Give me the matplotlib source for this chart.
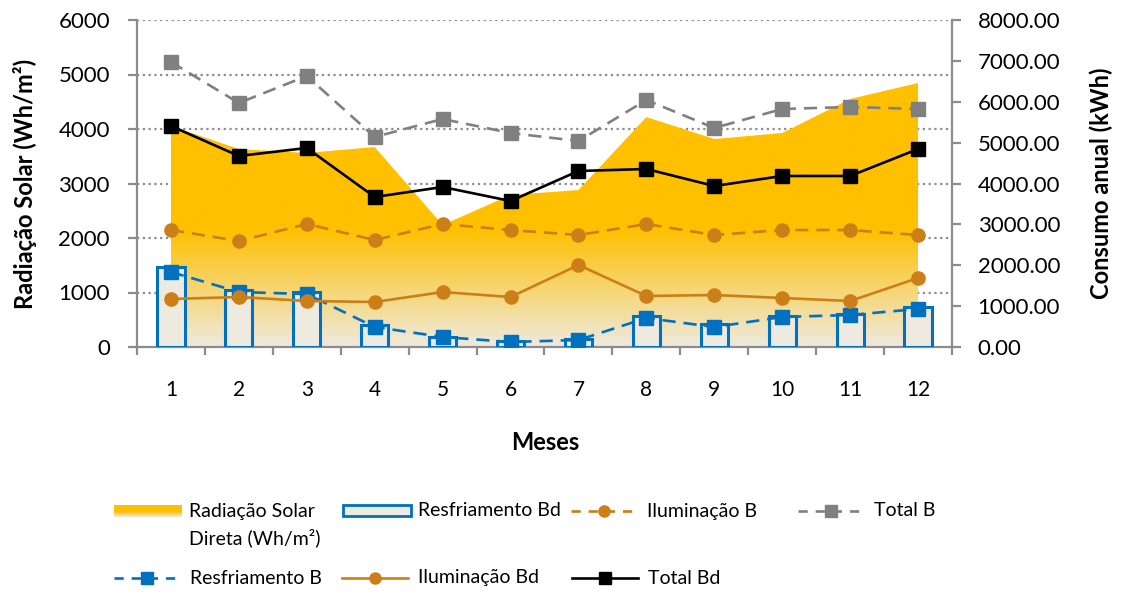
import numpy as np
import matplotlib
matplotlib.use("Agg")
import matplotlib.pyplot as plt
from matplotlib.patches import Rectangle
from matplotlib.colors import to_rgb

plt.rcParams['font.family'] = ['Lato', 'DejaVu Sans']

months = list(range(1, 13))
month_labels = [str(m) for m in months]
radiacao = [4055, 3633, 3560, 3670, 2239, 2789, 2880, 4220, 3816, 3927, 4550, 4844]
resfriamento_bd = [1957, 1394, 1345, 538, 245, 147, 196, 758, 563, 758, 807, 979]
resfriamento_b = [1835, 1345, 1296, 489, 245, 122, 171, 709, 489, 734, 783, 930]
iluminacao_b = [2862, 2593, 3009, 2618, 3009, 2862, 2740, 3009, 2740, 2862, 2862, 2740]
iluminacao_bd = [1174, 1223, 1125, 1101, 1345, 1223, 2006, 1248, 1272, 1199, 1125, 1688]
total_b = [6972, 5970, 6630, 5138, 5578, 5235, 5040, 6043, 5358, 5823, 5872, 5823]
total_bd = [5407, 4673, 4869, 3670, 3914, 3572, 4306, 4355, 3939, 4184, 4184, 4844]

left_ticks = [0, 1000, 2000, 3000, 4000, 5000, 6000]
right_ticks = [0, 1000, 2000, 3000, 4000, 5000, 6000, 7000, 8000]

YELLOW = '#FFC000'
PALE = '#EEEAE0'
BLUE = '#0070C0'
ORANGE = '#CD7F17'
GREY = '#808080'
SPINE = '#8C8C8C'

W, H = 1123, 593
fig = plt.figure(figsize=(W / 100, H / 100), dpi=100)
ax = fig.add_axes([137 / W, 1 - 347 / H, 815 / W, 327 / H])
ax2 = ax.twinx()

# gradient area on left axis
poly = ax.fill_between(months, 0, radiacao, facecolor='none', edgecolor='none')
ys = np.linspace(0, 6000, 400)
c1 = np.array(to_rgb(YELLOW))
c0 = np.array(to_rgb(PALE))
t = np.clip(ys / 2150.0, 0, 1)[:, None]
grad = (c0 * (1 - t) + c1 * t)[:, None, :]
im = ax.imshow(grad, extent=[0.5, 12.5, 0, 6000], origin='lower', aspect='auto',
               interpolation='bilinear', zorder=1)
im.set_clip_path(poly.get_paths()[0], transform=ax.transData)

ax.set_xlim(0.5, 12.5)
ax.set_ylim(0, 6000)
ax.set_yticks(left_ticks)
ax.set_yticklabels([str(v) for v in left_ticks])
for v in left_ticks[1:]:
    ax.axhline(v, color='#8C8C8C', lw=1.6, ls=(0, (1, 1.6)), zorder=0.5)

# right axis series
ax2.bar(months, resfriamento_bd, width=0.4, facecolor=PALE, edgecolor=BLUE, lw=2.2, zorder=2)
lw = 1.9
ax2.plot(months, total_b, color=GREY, lw=lw, ls=(0, (5, 3)), marker='s', ms=9.5, zorder=3)
ax2.plot(months, iluminacao_b, color=ORANGE, lw=lw, ls=(0, (5, 3)), marker='o', ms=9.5, zorder=3)
ax2.plot(months, resfriamento_b, color=BLUE, lw=lw, ls=(0, (5, 3)), marker='s', ms=9.5, zorder=3)
ax2.plot(months, iluminacao_bd, color=ORANGE, lw=lw, marker='o', ms=9.5, zorder=3)
ax2.plot(months, total_bd, color='black', lw=lw, marker='s', ms=9.5, zorder=4)
ax2.set_ylim(0, 8000)
ax2.set_yticks(right_ticks)
ax2.set_yticklabels(['%.2f' % v for v in right_ticks])

# spines & ticks
for a in (ax, ax2):
    a.spines['top'].set_visible(False)
    for s in ('left', 'right', 'bottom'):
        a.spines[s].set_color(SPINE)
        a.spines[s].set_linewidth(1.6)
ax.spines['right'].set_visible(False)
ax2.spines['left'].set_visible(False)
ax2.spines['bottom'].set_visible(False)

ax.tick_params(axis='y', length=6.5, width=1.6, color=SPINE, pad=13, labelsize=16)
ax2.tick_params(axis='y', length=6.5, width=1.6, color=SPINE, pad=12, labelsize=16)
ax.set_xticks(np.arange(0.5, 13, 1))
ax.set_xticklabels([])
ax.tick_params(axis='x', which='major', length=6, width=1.6, color=SPINE)
ax.set_xticks(months, minor=True)
ax.set_xticklabels(month_labels, minor=True)
ax.tick_params(axis='x', which='minor', length=0, pad=24, labelsize=15)

ax.set_ylabel('Radiação Solar (Wh/m²)', fontsize=17, fontweight='bold')
ax.yaxis.set_label_coords(-0.1227, 0.5)
ax2.set_ylabel('Consumo anual (kWh)', fontsize=17, fontweight='bold')
ax2.yaxis.set_label_coords(1.1693, 0.5)
ax.set_xlabel('Meses', fontsize=17, fontweight='bold')
ax.xaxis.set_label_coords(0.5006, -0.258)

# legend (manual, pixel coords)
lax = fig.add_axes([0, 0, 1, 1])
lax.set_xlim(0, W)
lax.set_ylim(H, 0)
lax.axis('off')
lfs = 14

g = np.linspace(0, 1, 50)[:, None]
sw = (c1 * (1 - np.clip((g - 0.55) / 0.45, 0, 1)) + c0 * np.clip((g - 0.55) / 0.45, 0, 1))[:, None, :]
lax.imshow(sw, extent=[114, 182, 517, 505], aspect='auto', interpolation='bilinear')
lax.set_xlim(0, W)
lax.set_ylim(H, 0)
lax.text(189, 512, 'Radiação Solar', fontsize=lfs, va='center', ha='left')
lax.text(189, 538, 'Direta (Wh/m²)', fontsize=lfs, va='center', ha='left')
lax.add_patch(Rectangle((343, 505), 68, 11, facecolor=PALE, edgecolor=BLUE, lw=2))
lax.text(418, 511, 'Resfriamento Bd', fontsize=lfs, va='center', ha='left')


def leg_line(x0, y, color, ls, marker, label):
    lax.plot([x0, x0 + 33, x0 + 66], [y, y, y], color=color, lw=lw, ls=ls,
             marker=marker, ms=8, markevery=[1])
    lax.text(x0 + 76, y, label, fontsize=lfs, va='center', ha='left')


leg_line(571, 511, ORANGE, (0, (3.5, 3)), 'o', 'Iluminação B')
leg_line(798, 511, GREY, (0, (3.5, 3)), 's', 'Total B')
leg_line(114, 578, BLUE, (0, (3.5, 3)), 's', 'Resfriamento B')
leg_line(342, 578, ORANGE, '-', 'o', 'Iluminação Bd')
leg_line(572, 578, 'black', '-', 's', 'Total Bd')

fig.savefig('out.png', dpi=100)
